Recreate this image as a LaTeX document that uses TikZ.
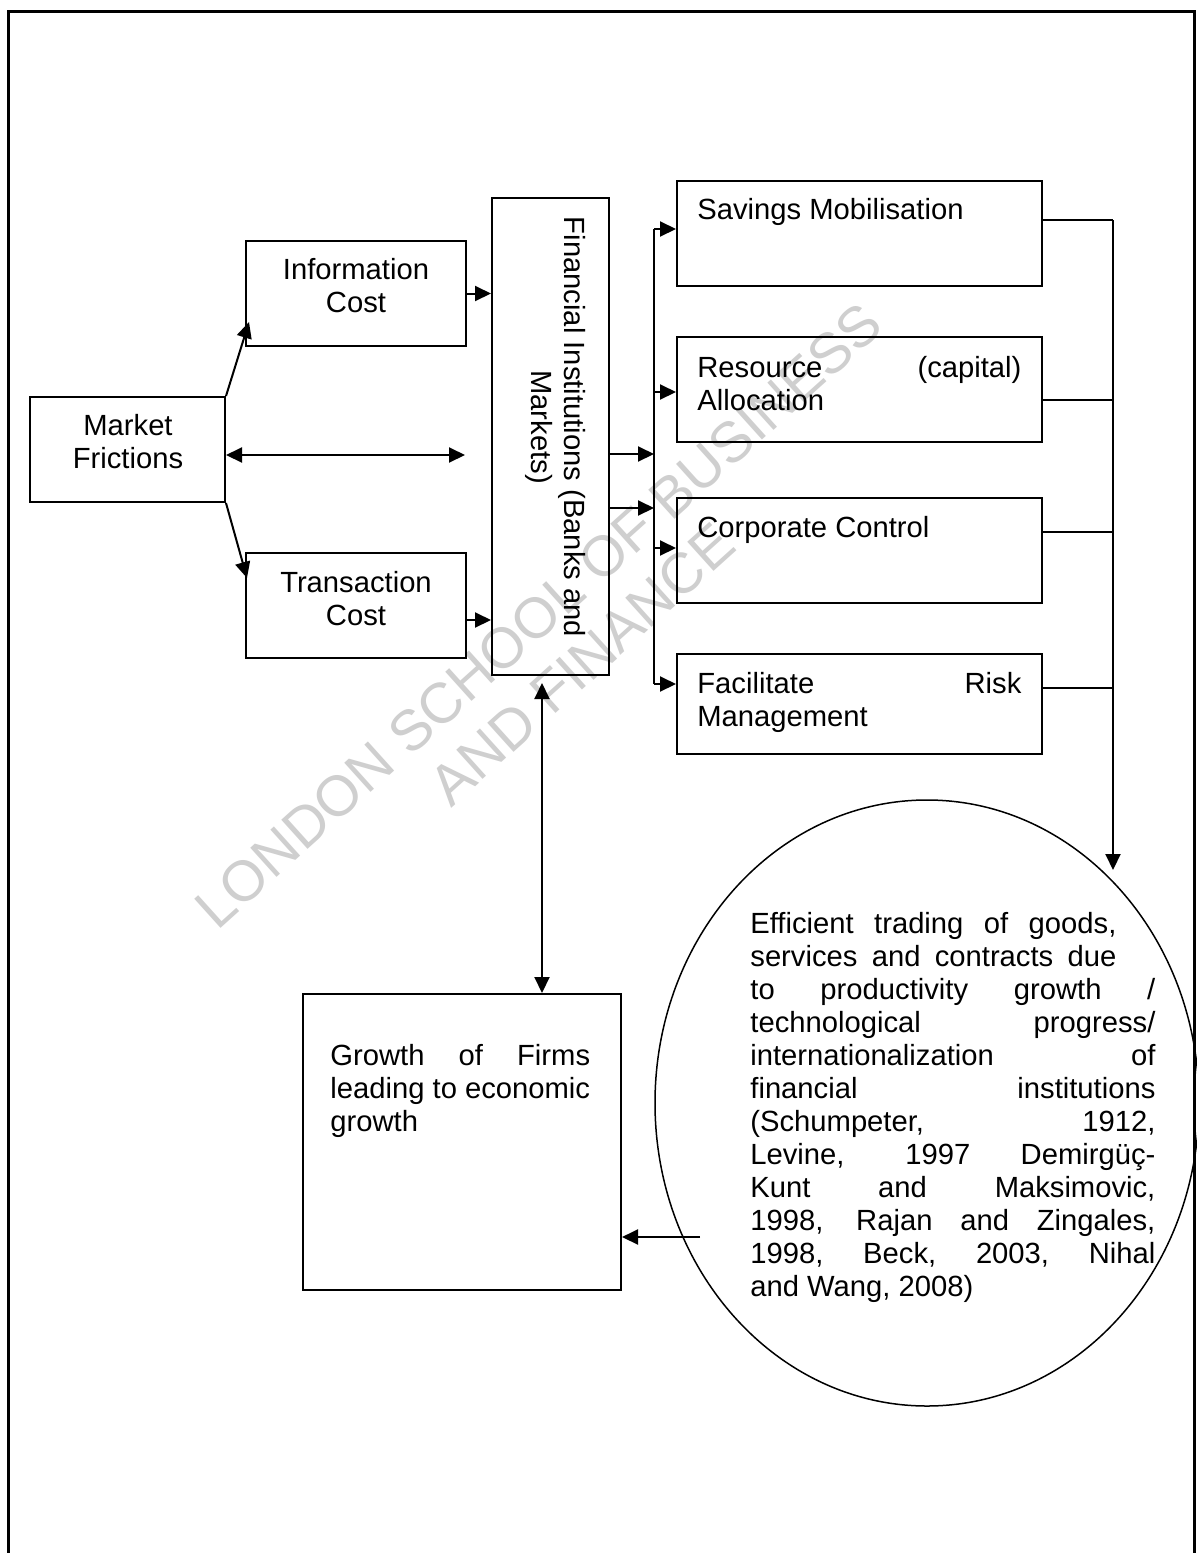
\documentclass[tikz,border=0pt]{standalone}
\usepackage{fontspec}
\setmainfont{Liberation Sans}
\usetikzlibrary{arrows.meta,calc,shapes.geometric}
\tikzset{
  box/.style={draw, line width=1pt, inner sep=0pt},
  txt/.style={inner sep=0pt, font=\fontsize{14.6}{16.5}\selectfont},
  arr/.style={line width=1pt, -{Triangle[length=8pt,width=7.5pt]}},
  darr/.style={line width=1pt, {Triangle[length=8pt,width=7.5pt]}-{Triangle[length=8pt,width=7.5pt]}},
  thin line/.style={line width=0.75pt},
  wm/.style={inner sep=0pt, text=black!19, align=center, font=\fontsize{28.5}{32.5}\selectfont}
}
\begin{document}
\begin{tikzpicture}[x=0.5pt,y=-0.5pt]
\useasboundingbox (0,0) rectangle (1197,1553);
\fill[white] (0,0) rectangle (1197,1553);
% watermark
\node[wm, rotate=42] (wmk) at (560,640) {LONDON SCHOOL OF BUSINESS\\AND FINANCE};
% frame
\draw[line width=1.5pt] (8,1553) -- (8,11) -- (1194,11) -- (1194,1553);
% boxes
\node[box, minimum width=97.5pt, minimum height=52.5pt] (mf) at (127.5,449.5) {};
\node[box, minimum width=110pt, minimum height=52.5pt] (info) at (356,293.5) {};
\node[box, minimum width=110pt, minimum height=52.5pt] (trans) at (356,605.5) {};
\node[box, minimum width=58.5pt, minimum height=238.5pt] (fi) at (550.5,436.5) {};
\node[box, minimum width=182.5pt, minimum height=52.5pt] (sav) at (859.5,233.5) {};
\node[box, minimum width=182.5pt, minimum height=52.5pt] (res) at (859.5,389.5) {};
\node[box, minimum width=182.5pt, minimum height=52.5pt] (corp) at (859.5,550.5) {};
\node[box, minimum width=182.5pt, minimum height=50pt] (fac) at (859.5,704) {};
\node[box, minimum width=159pt, minimum height=148pt] (growth) at (462,1142) {};
\node[draw, ellipse, line width=0.75pt, inner sep=0pt, minimum width=272pt, minimum height=303pt] (eff) at (927,1103) {};
% texts
\node[txt, align=center, anchor=north] (mft) at (128,412) {\strut Market\\Frictions};
\node[txt, align=center, anchor=north] (infot) at (356,256) {\strut Information\\Cost};
\node[txt, align=center, anchor=north] (transt) at (356,569) {\strut Transaction\\Cost};
\node[txt, align=center, rotate=-90] (fit) at (555,427) {\strut Financial Institutions (Banks and\\Markets)\strut};
\node[txt, align=left, anchor=north west] (savt) at (697,196) {\strut Savings Mobilisation};
\node[txt, align=left, anchor=north west] (rest) at (697,354) {\strut\makebox[162pt][s]{Resource (capital)}\\Allocation};
\node[txt, align=left, anchor=north west] (corpt) at (697,514) {\strut Corporate Control};
\node[txt, align=left, anchor=north west] (fact) at (697,670) {\strut\makebox[162pt][s]{Facilitate Risk}\\Management};
\node[txt, align=left, anchor=north west] (growtht) at (330,1042) {\strut\sbox0{leading to economic}\makebox[\wd0][s]{Growth of Firms}\\leading to economic\\growth};
\node[txt, align=left, anchor=north west] (efft) at (750,910) {\strut\makebox[183pt][s]{Efficient trading of goods,}\\
\makebox[183pt][s]{services and contracts due}\\
\makebox[202.5pt][s]{to productivity growth /}\\
\makebox[202.5pt][s]{technological progress/}\\
\makebox[202.5pt][s]{internationalization of}\\
\makebox[202.5pt][s]{financial institutions}\\
\makebox[202.5pt][s]{(Schumpeter, 1912,}\\
\makebox[202.5pt][s]{Levine, 1997 Demirgüç-}\\
\makebox[202.5pt][s]{Kunt and Maksimovic,}\\
\makebox[202.5pt][s]{1998, Rajan and Zingales,}\\
\makebox[202.5pt][s]{1998, Beck, 2003, Nihal}\\
and Wang, 2008)};
% coordinates
\coordinate (infoIn) at (249,322);
\coordinate (transIn) at (247,578);
\coordinate (fiL) at (465,455);
\coordinate (transOut) at (466,620);
\coordinate (splitTop) at (654,229);
\coordinate (splitBot) at (654,684);
\coordinate (rightTop) at (1113,220);
\coordinate (rightEnd) at (1113,870);
\coordinate (effOut) at (700,1237);
% left connectors
\draw[arr] (mf.north east) -- (infoIn);
\draw[arr] (mf.south east) -- (transIn);
\draw[darr] (mf.east |- fiL) -- (fiL);
\draw[arr] (info.east) -- (info.east -| fi.west);
\draw[arr] (transOut) -- (transOut -| fi.west);
% fi to split
\draw[arr] (fi.east |- 0,454) -- (splitTop |- 0,454);
\draw[arr] (fi.east |- 0,508) -- (splitTop |- 0,508);
\draw[line width=1pt] (splitTop) -- (splitBot);
\draw[arr] (splitTop) -- (splitTop -| sav.west);
\draw[arr] (splitTop |- 0,392) -- (res.west |- 0,392);
\draw[arr] (splitTop |- 0,548) -- (corp.west |- 0,548);
\draw[arr] (splitBot) -- (splitBot -| fac.west);
% right connectors
\draw[thin line] (sav.east |- rightTop) -- (rightTop);
\draw[thin line] (res.east |- 0,400) -- (rightTop |- 0,400);
\draw[thin line] (corp.east |- 0,532) -- (rightTop |- 0,532);
\draw[thin line] (fac.east |- 0,688) -- (rightTop |- 0,688);
\draw[arr] (rightTop) -- (rightEnd);
% lower connectors
\draw[darr] (542,683) -- (growth.north -| 542,0);
\draw[arr] (effOut) -- (effOut -| growth.east);
\end{tikzpicture}
\end{document}
